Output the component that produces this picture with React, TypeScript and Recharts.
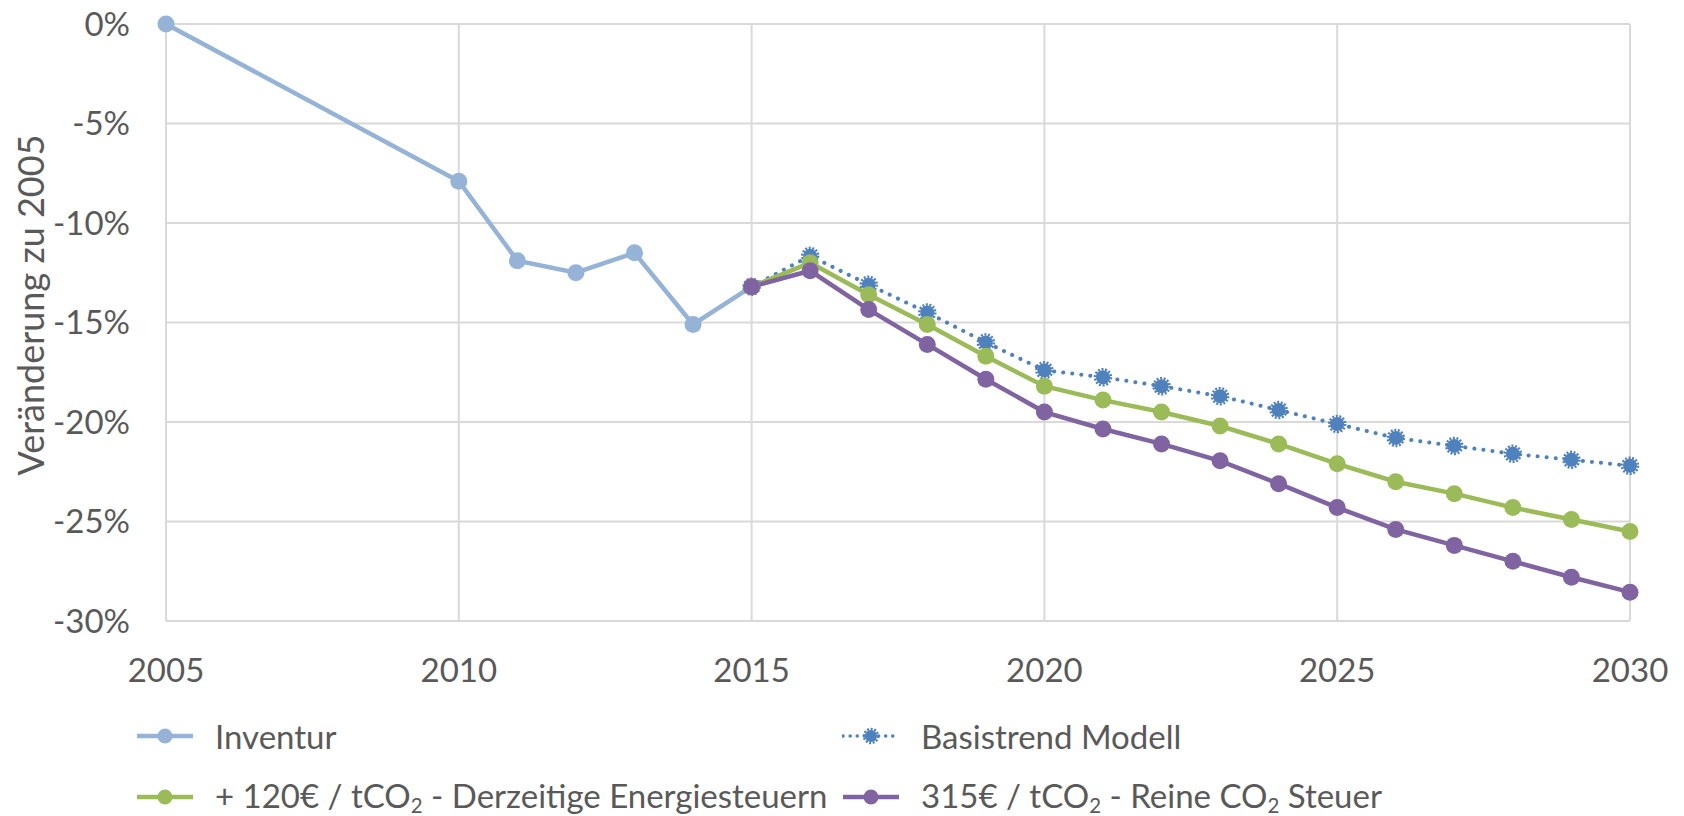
import { CartesianGrid, Line, LineChart, XAxis, YAxis } from "recharts";

const years = [2005, 2010, 2011, 2012, 2013, 2014, 2015, 2016, 2017, 2018, 2019, 2020, 2021, 2022, 2023, 2024, 2025, 2026, 2027, 2028, 2029, 2030];
const inventur = [0, -7.9, -11.9, -12.5, -11.5, -15.1, -13.2];
const basistrend = [-13.2, -11.65, -13.1, -14.5, -16.0, -17.4, -17.75, -18.2, -18.7, -19.4, -20.1, -20.8, -21.2, -21.6, -21.9, -22.2];
const steuer120 = [-13.2, -12.0, -13.6, -15.1, -16.7, -18.2, -18.9, -19.5, -20.2, -21.1, -22.1, -23.0, -23.6, -24.3, -24.9, -25.5];
const steuer315 = [-13.2, -12.4, -14.35, -16.1, -17.85, -19.5, -20.35, -21.1, -21.95, -23.1, -24.3, -25.4, -26.2, -27.0, -27.8, -28.55];
const xTicks = [2005, 2010, 2015, 2020, 2025, 2030];
const yTicks = [0, -5, -10, -15, -20, -25, -30];

const FONT = "Lato, 'Open Sans', sans-serif";
const TEXT = "#595959";
const GRID = "#D9D9D9";

// modelled series start in 2015 (index 6 of years)
const data = years.map((year, i) => ({
  year,
  inventur: i < inventur.length ? inventur[i] : undefined,
  basistrend: i >= 6 ? basistrend[i - 6] : undefined,
  steuer120: i >= 6 ? steuer120[i - 6] : undefined,
  steuer315: i >= 6 ? steuer315[i - 6] : undefined,
}));

const series = [
  { key: "inventur", name: "Inventur", color: "#95B3D7", dotted: false },
  { key: "basistrend", name: "Basistrend Modell", color: "#4F81BD", dotted: true },
  { key: "steuer120", name: "+ 120€ / tCO₂ - Derzeitige Energiesteuern", color: "#9BBB59", dotted: false },
  { key: "steuer315", name: "315€ / tCO₂ - Reine CO₂ Steuer", color: "#8064A2", dotted: false },
];

function withSub(label: string) {
  return label.split("₂").flatMap((part, i, arr) =>
    i < arr.length - 1
      ? [part, <span key={i} style={{ fontSize: "0.62em", verticalAlign: "-0.25em" }}>2</span>]
      : [part]
  );
}

function DottedDot(props: any) {
  const { cx, cy } = props;
  if (cx == null || cy == null) return null;
  return (
    <g>
      <circle cx={cx} cy={cy} r={7} fill="#4F81BD" />
      <circle cx={cx} cy={cy} r={8} fill="none" stroke="#4F81BD" strokeWidth={2.5} strokeDasharray="2 1.6" />
    </g>
  );
}

function LegendIcon({ color, dotted }: { color: string; dotted: boolean }) {
  return (
    <svg width={58} height={20} style={{ display: "block" }}>
      <line x1={1} y1={10} x2={57} y2={10} stroke={color} strokeWidth={dotted ? 3.5 : 4.5}
        strokeDasharray={dotted ? "0.1 7" : undefined} strokeLinecap={dotted ? "round" : "butt"} />
      {dotted ? (
        <g>
          <circle cx={29} cy={10} r={6} fill={color} />
          <circle cx={29} cy={10} r={7} fill="none" stroke={color} strokeWidth={2.5} strokeDasharray="2 1.6" />
        </g>
      ) : (
        <circle cx={29} cy={10} r={7.5} fill={color} />
      )}
    </svg>
  );
}

export default function App() {
  return (
    <div style={{ position: "absolute", left: 0, top: 0, width: 1684, height: 816, background: "#fff", fontFamily: FONT }}>
      <LineChart width={1684} height={816} data={data} margin={{ top: 24, right: 54, left: 0, bottom: 135 }}>
        <CartesianGrid stroke={GRID} strokeWidth={2} />
        <XAxis dataKey="year" type="number" domain={[2005, 2030]} ticks={xTicks} height={60}
          tick={{ fill: TEXT, fontSize: 33, fontFamily: FONT }} tickLine={false} tickSize={0} tickMargin={38}
          axisLine={{ stroke: GRID, strokeWidth: 2 }} />
        <YAxis type="number" domain={[-30, 0]} ticks={yTicks} width={166} interval={0}
          tickFormatter={(v: number) => `${v}%`}
          tick={{ fill: TEXT, fontSize: 33, fontFamily: FONT }} tickLine={false} tickSize={0} tickMargin={36}
          axisLine={false}
          label={{
            content: () => (
              <text x={30} y={305} transform="rotate(-90 30 305)" textAnchor="middle" dominantBaseline="central"
                fill={TEXT} fontSize={36} fontFamily={FONT}>
                Veränderung zu 2005
              </text>
            ),
          }} />
        <Line dataKey="inventur" stroke="#95B3D7" strokeWidth={4.5} dot={{ r: 8.5, fill: "#95B3D7", stroke: "none" }}
          isAnimationActive={false} />
        <Line dataKey="basistrend" stroke="#4F81BD" strokeWidth={4} strokeDasharray="0.1 9" strokeLinecap="round"
          dot={<DottedDot />} isAnimationActive={false} />
        <Line dataKey="steuer120" stroke="#9BBB59" strokeWidth={4.5} dot={{ r: 8.5, fill: "#9BBB59", stroke: "none" }}
          isAnimationActive={false} />
        <Line dataKey="steuer315" stroke="#8064A2" strokeWidth={4.5} dot={{ r: 8.5, fill: "#8064A2", stroke: "none" }}
          isAnimationActive={false} />
      </LineChart>
      <div style={{ position: "absolute", left: 136, top: 712, display: "grid", gridTemplateColumns: "706px auto", rowGap: 14 }}>
        {series.map((s) => (
          <div key={s.key} style={{ display: "flex", alignItems: "center", height: 47, color: TEXT, fontSize: 33, whiteSpace: "nowrap" }}>
            <LegendIcon color={s.color} dotted={s.dotted} />
            <span style={{ marginLeft: 21 }}>{withSub(s.name)}</span>
          </div>
        ))}
      </div>
    </div>
  );
}
